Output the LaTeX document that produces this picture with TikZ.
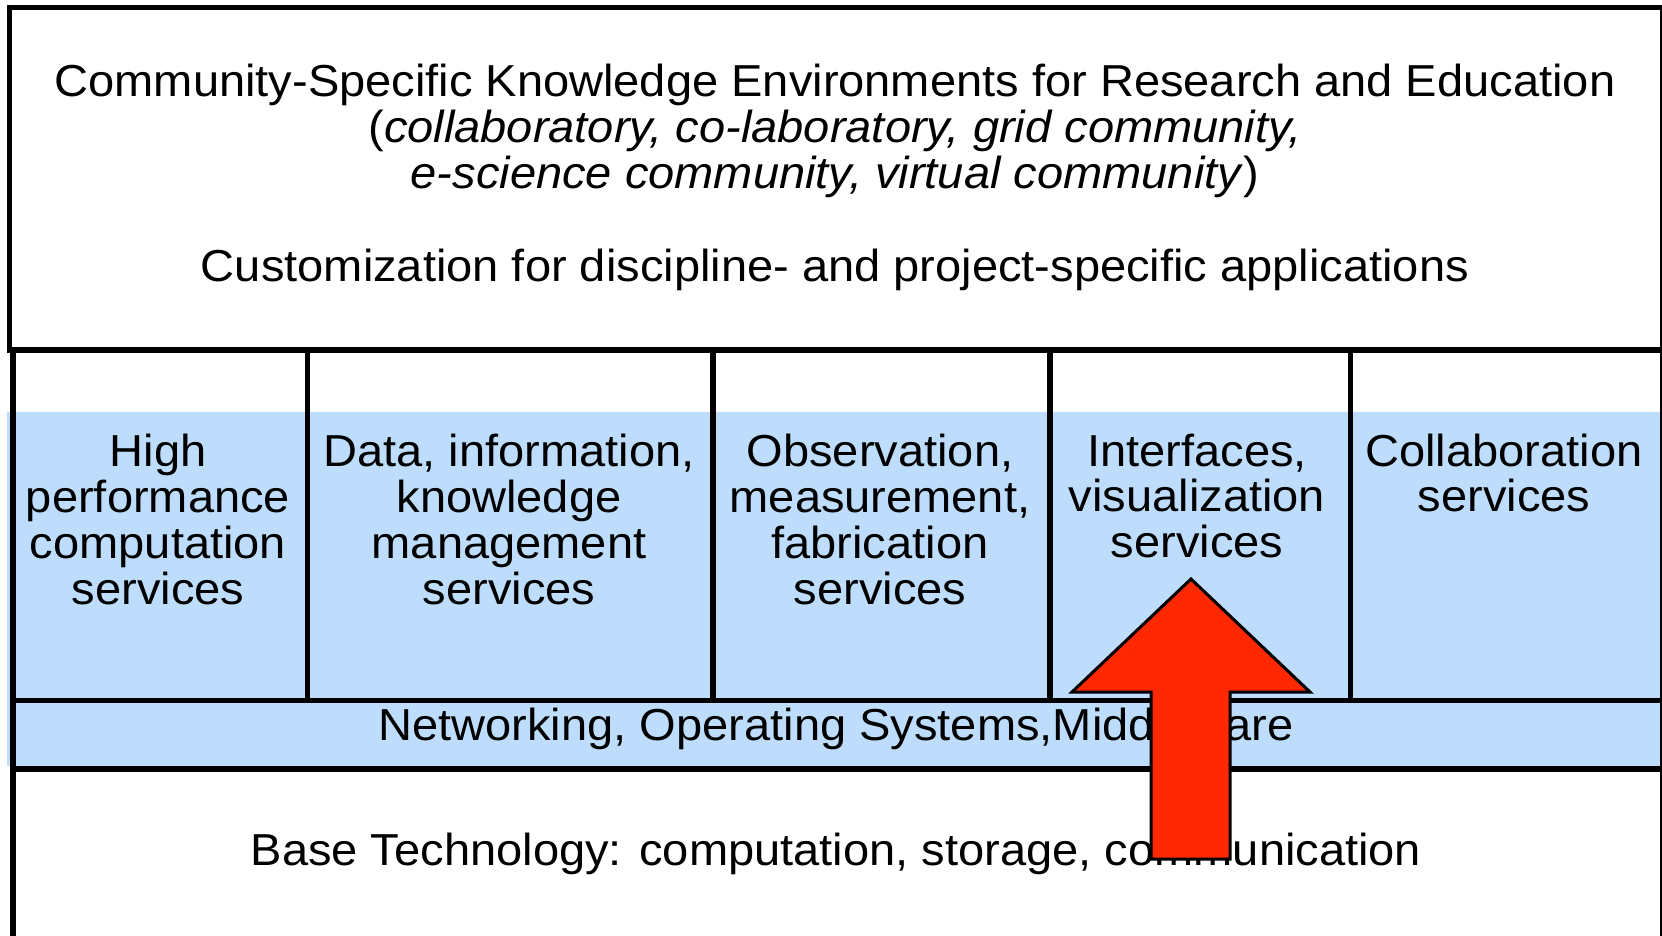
\documentclass[tikz,border=0pt]{standalone}
\usepackage{fontspec}
\setmainfont[FakeStretch=1.05]{Liberation Sans}
\definecolor{layerblue}{RGB}{190,221,252}
\definecolor{arrowred}{RGB}{255,40,0}
\begin{document}
\begin{tikzpicture}[x=0.5pt,y=-0.5pt,
  txt/.style={font=\fontsize{22.4}{23}\selectfont, align=center, inner sep=0pt, anchor=base},
  thickline/.style={draw=black, line width=2.9pt},
  arrowshape/.style={fill=arrowred, draw=black, line width=1.5pt, line join=miter},
]
\useasboundingbox (0,0) rectangle (1662,936);
% blue band
\fill[layerblue] (7,412) rectangle (1664,766);
% frames
\draw[thickline] (1664,350) -- (9.5,350) -- (9.5,7.5) -- (1664,7.5);
\draw[thickline, line width=2pt] (1662,7.5) -- (1662,350);
\draw[thickline] (13,350) -- (13,940);
\draw[thickline, line width=2pt] (1662,350) -- (1662,940);
\draw[thickline, line width=2.2pt] (13,700.5) -- (1664,700.5);
\draw[thickline, line width=3.4pt] (13,769) -- (1664,769);
\foreach \xx in {307.5,713,1050,1350.5} \draw[thickline] (\xx,350) -- (\xx,700.5);
% texts (base anchor = baseline of last line)
\node[txt] (title) at (835,189) {Community-Specific Knowledge Environments for Research and Education\\
(\textit{collaboratory, co-laboratory, grid community,}\\
\textit{e-science community, virtual community})};
\node[txt] (custom) at (835,282) {Customization for discipline- and project-specific applications};
\node[txt] (hpc) at (158,604) {High\\performance\\computation\\services};
\node[txt] (data) at (509,604) {Data, information,\\knowledge\\management\\services};
\node[txt] (obs) at (880,604) {Observation,\\measurement,\\fabrication\\services};
\node[txt] (vis) at (1197,558) {Interfaces,\\visualization\\services};
\node[txt] (collab) at (1504,512) {Collaboration\\services};
\node[txt] (net) at (836,740) {Networking, Operating Systems,Middleware};
\node[txt] (base) at (836,865) {Base Technology: computation, storage, communication};
% arrow
\draw[arrowshape] (1191,579) -- (1310,692) -- (1230,692) -- (1230,859) -- (1151,859) -- (1151,692) -- (1072,692) -- cycle;
\end{tikzpicture}
\end{document}
